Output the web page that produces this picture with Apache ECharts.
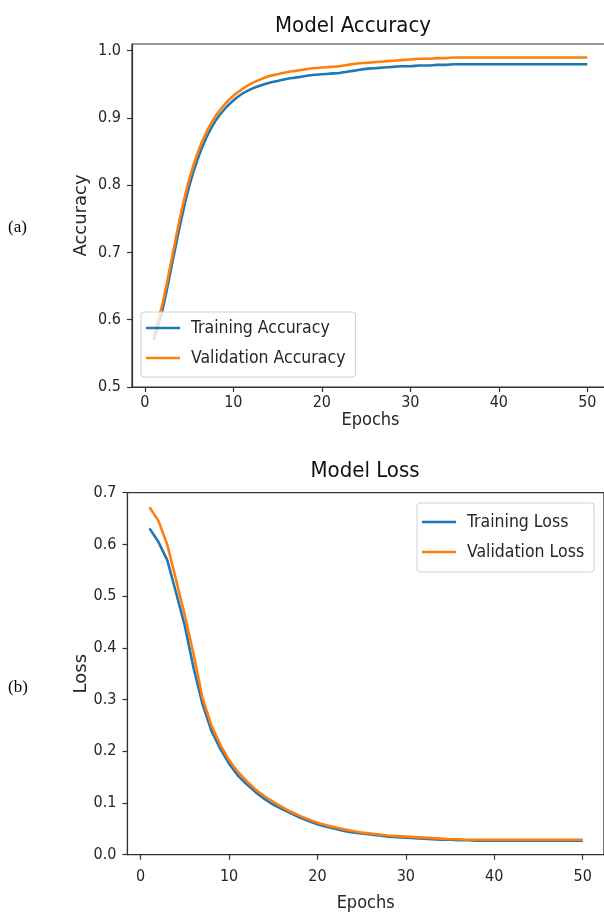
<!DOCTYPE html>
<html><head><meta charset="utf-8">
<script src="https://cdn.jsdelivr.net/npm/echarts@6/dist/echarts.min.js"></script>
<style>html,body{margin:0;padding:0;background:#fff;overflow:hidden}#c{width:620px;height:918px}</style>
</head><body><div id="c"></div>
<script>
const epochs = [1,2,3,4,5,6,7,8,9,10,11,12,13,14,15,16,17,18,19,20,21,22,23,24,25,26,27,28,29,30,31,32,33,34,35,36,37,38,39,40,41,42,43,44,45,46,47,48,49,50];
const trainAcc = [0.570,0.615,0.678,0.742,0.798,0.840,0.872,0.896,0.913,0.926,0.936,0.943,0.948,0.952,0.955,0.958,0.960,0.962,0.964,0.965,0.966,0.967,0.969,0.971,0.973,0.974,0.975,0.976,0.977,0.977,0.978,0.978,0.979,0.979,0.980,0.980,0.980,0.980,0.980,0.980,0.980,0.980,0.980,0.980,0.980,0.980,0.980,0.980,0.980,0.980];
const valAcc = [0.575,0.624,0.688,0.753,0.808,0.849,0.880,0.903,0.920,0.933,0.943,0.951,0.957,0.962,0.965,0.968,0.970,0.972,0.974,0.975,0.976,0.977,0.979,0.981,0.982,0.983,0.984,0.985,0.986,0.987,0.988,0.988,0.989,0.989,0.990,0.990,0.990,0.990,0.990,0.990,0.990,0.990,0.990,0.990,0.990,0.990,0.990,0.990,0.990,0.990];
const trainLoss = [0.631,0.605,0.570,0.507,0.442,0.360,0.291,0.240,0.205,0.176,0.153,0.136,0.121,0.108,0.097,0.088,0.080,0.072,0.065,0.059,0.054,0.050,0.046,0.043,0.041,0.039,0.037,0.035,0.034,0.033,0.032,0.031,0.030,0.029,0.029,0.028,0.028,0.027,0.027,0.027,0.027,0.027,0.027,0.027,0.027,0.027,0.027,0.027,0.027,0.027];
const valLoss = [0.672,0.646,0.600,0.532,0.462,0.387,0.303,0.250,0.213,0.183,0.160,0.142,0.126,0.113,0.102,0.092,0.083,0.075,0.068,0.062,0.057,0.053,0.049,0.046,0.043,0.041,0.039,0.037,0.036,0.035,0.034,0.033,0.032,0.031,0.030,0.030,0.029,0.029,0.029,0.029,0.029,0.029,0.029,0.029,0.029,0.029,0.029,0.029,0.029,0.029];
const xTicks = [0,10,20,30,40,50];
const accTicks = [0.5,0.6,0.7,0.8,0.9,1.0];
const lossTicks = [0.0,0.1,0.2,0.3,0.4,0.5,0.6,0.7];

const FONT = "'DejaVu Sans Condensed', 'DejaVu Sans', sans-serif";
const BLUE = '#1f77b4', ORANGE = '#ff7f0e', INK = '#262626';
const pairs = (ys) => epochs.map((e, i) => [e, ys[i]]);

function xAxisCfg(gridIndex, min, max, labelMargin, nameGap) {
  return {
    type: 'value', gridIndex, min, max,
    name: 'Epochs', nameLocation: 'middle', nameGap, nameMoveOverlap: false,
    nameTextStyle: { fontFamily: FONT, fontSize: 18, color: INK },
    axisLine: { show: true, onZero: false, lineStyle: { color: '#333', width: 1.2 } },
    axisTick: { show: true, length: 5, customValues: xTicks, lineStyle: { color: '#333', width: 1.2 } },
    axisLabel: { customValues: xTicks, margin: labelMargin, fontFamily: FONT, fontSize: 16, color: INK },
    splitLine: { show: false }
  };
}
function yAxisCfg(gridIndex, min, max, ticks, name, nameGap) {
  return {
    type: 'value', gridIndex, min, max,
    name, nameLocation: 'middle', nameGap, nameRotate: 90, nameMoveOverlap: false,
    nameTextStyle: { fontFamily: "'DejaVu Sans', sans-serif", fontSize: 18, color: INK },
    axisLine: { show: true, onZero: false, lineStyle: { color: '#333', width: 1.2 } },
    axisTick: { show: true, length: 5, customValues: ticks, lineStyle: { color: '#333', width: 1.2 } },
    axisLabel: { customValues: ticks, margin: 11, fontFamily: FONT, fontSize: 16, color: INK,
      formatter: (v) => v.toFixed(1) },
    splitLine: { show: false }
  };
}
function legendCfg(names, left, top, padding) {
  return {
    data: names, orient: 'vertical', left, top, padding, itemGap: 8,
    icon: 'rect', itemWidth: 34, itemHeight: 2.5,
    borderColor: '#d0d0d0', borderWidth: 1, borderRadius: 3, backgroundColor: 'rgba(255,255,255,0.8)',
    textStyle: { fontFamily: FONT, fontSize: 17.5, color: INK, lineHeight: 22, padding: [0, 0, 0, 6] }
  };
}
function lineSeries(name, xi, data, color, smooth) {
  return { name, type: 'line', xAxisIndex: xi, yAxisIndex: xi, data: pairs(data), smooth,
    showSymbol: false, symbol: 'none', lineStyle: { color, width: 2.6 }, itemStyle: { color }, z: color === ORANGE ? 3 : 2 };
}

const chart = echarts.init(document.getElementById('c'), null, { renderer: 'canvas' });
chart.setOption({
  backgroundColor: '#fff',
  animation: false,
  title: [
    { text: 'Model Accuracy', left: 348, top: 10, textAlign: 'center',
      textStyle: { fontFamily: FONT, fontSize: 22, fontWeight: 'normal', color: '#111' } },
    { text: 'Model Loss', left: 360, top: 455, textAlign: 'center',
      textStyle: { fontFamily: FONT, fontSize: 22, fontWeight: 'normal', color: '#111' } }
  ],
  grid: [
    { left: 132, top: 44, width: 477, height: 343, show: true, borderColor: '#333', borderWidth: 1.2, backgroundColor: '#fff' },
    { left: 127.4, top: 492.7, width: 476.5, height: 362, show: true, borderColor: '#333', borderWidth: 1.2, backgroundColor: '#fff' }
  ],
  xAxis: [ xAxisCfg(0, -1.45, 52.45, 8, 24), xAxisCfg(1, -1.5, 52.4, 14, 40) ],
  yAxis: [ yAxisCfg(0, 0.5, 1.01, accTicks, 'Accuracy', 42), yAxisCfg(1, 0, 0.7, lossTicks, 'Loss', 37) ],
  legend: [
    legendCfg(['Training Accuracy', 'Validation Accuracy'], 141, 312, [5, 10, 8, 5]),
    legendCfg(['Training Loss', 'Validation Loss'], 417, 503, [8, 10, 9, 5])
  ],
  series: [
    lineSeries('Training Accuracy', 0, trainAcc, BLUE, 0.3),
    lineSeries('Validation Accuracy', 0, valAcc, ORANGE, 0.3),
    lineSeries('Training Loss', 1, trainLoss, BLUE, false),
    lineSeries('Validation Loss', 1, valLoss, ORANGE, false)
  ],
  graphic: [
    { type: 'text', left: 8, top: 219, style: { text: '(a)', font: "17px 'Liberation Serif', serif", fill: '#000' } },
    { type: 'text', left: 8, top: 679, style: { text: '(b)', font: "17px 'Liberation Serif', serif", fill: '#000' } }
  ]
});
</script>
</body></html>
